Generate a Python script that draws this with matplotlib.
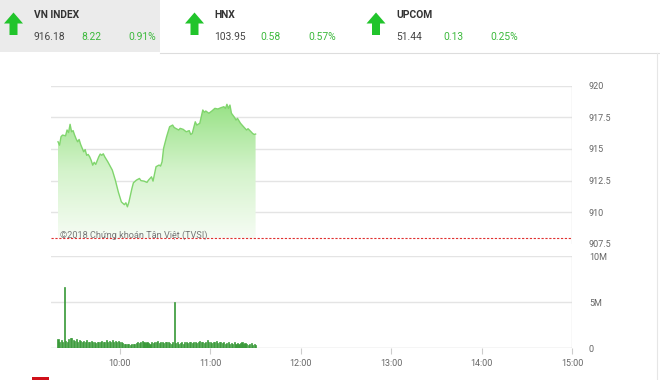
import numpy as np
import matplotlib
matplotlib.use("Agg")
import matplotlib.pyplot as plt
from matplotlib.patches import Rectangle, Polygon
from matplotlib.colors import LinearSegmentedColormap

plt.rcParams['font.family'] = ['Roboto', 'DejaVu Sans']

# ---------------- data ----------------
header_names = ["VN INDEX", "HNX", "UPCOM"]
header_values = ["916.18", "103.95", "51.44"]
header_changes = ["8.22", "0.58", "0.13"]
header_pcts = ["0.91%", "0.57%", "0.25%"]

ref_price = 907.96

# minutes after 09:00
price_minutes = [19, 20, 21, 22, 24, 25, 26, 27, 28, 29, 30, 31, 32, 33, 34, 36, 37, 38, 39,
                 40, 41, 42, 43, 44, 46, 47, 48, 49, 50, 52, 55, 57, 59, 61, 63, 64, 65, 66,
                 68, 69, 71, 73, 74, 76, 78, 79, 81, 82, 84, 86, 87, 88, 89, 91, 93, 95, 96,
                 97, 99, 100, 102, 104, 106, 107, 108, 110, 111, 113, 115, 116, 117, 119, 121,
                 123, 125, 127, 129, 130, 131, 132, 133, 134, 136, 137, 138, 140, 142, 144,
                 145, 147, 148, 149, 150]
price_values = [915.57, 915.30, 915.97, 916.10, 916.04, 916.50, 916.30, 916.95, 916.36,
                916.45, 916.10, 915.80, 915.57, 915.75, 915.36, 914.78, 914.95, 914.50,
                914.57, 914.38, 914.10, 913.72, 913.95, 913.78, 914.38, 914.60, 914.50,
                914.62, 914.38, 913.99, 913.33, 912.54, 911.60, 910.82, 910.60, 910.75,
                910.43, 910.80, 911.88, 912.33, 912.54, 912.67, 912.50, 912.46, 912.36,
                912.54, 912.80, 912.46, 913.60, 913.73, 913.65, 913.99, 915.05, 915.97,
                916.76, 916.89, 916.70, 916.63, 916.50, 916.63, 916.55, 916.36, 916.45,
                916.15, 916.23, 917.15, 916.89, 917.03, 918.08, 917.90, 918.00, 917.82,
                918.00, 918.21, 918.16, 918.26, 918.34, 918.20, 918.53, 918.21, 918.47,
                917.82, 917.50, 917.29, 917.42, 917.03, 916.76, 916.50, 916.60, 916.36,
                916.23, 916.15, 916.18]

vol_start_minute = 19
volume_m = [1.0, 0.7, 0.9, 0.6, 6.6, 0.8, 0.7, 1.0, 1.1, 1.1, 0.9, 0.8,
            1.0, 0.7, 0.9, 0.8, 0.6, 0.8, 0.7, 0.9, 0.6, 0.7, 0.8, 0.6, 0.7, 0.5, 0.7,
            0.6, 0.7, 0.8, 0.6, 0.7, 0.9, 0.7, 0.8, 0.6, 0.9, 0.7, 0.8, 0.6, 0.8, 0.7,
            0.6, 0.5, 0.4, 0.45, 0.4, 0.4, 0.35, 0.4, 0.45, 0.4, 0.5, 0.6, 0.5, 0.7, 0.8,
            0.6, 0.5, 0.7, 0.5, 0.4, 0.6, 0.5, 0.7, 0.6, 0.8, 0.5, 0.6, 0.7, 0.5, 0.6,
            0.7, 0.6, 0.5, 0.4, 0.6, 5.0, 0.5, 0.6, 0.4, 0.5, 0.6, 0.4, 0.6, 0.7, 0.5,
            0.6, 0.7, 0.5, 0.6, 0.7, 0.5, 0.6, 0.8, 0.6, 0.7, 0.5, 0.6, 0.9, 0.7, 0.6,
            0.5, 0.7, 0.6, 0.8, 0.5, 0.6, 0.7, 0.5, 0.6, 0.4, 0.5, 0.6, 0.4, 0.5, 0.4,
            0.6, 0.4, 0.5, 0.4, 0.5, 0.6, 0.4, 0.5, 0.4, 0.3, 0.4, 0.5, 0.3, 0.4, 0.3]

price_ticks = [907.5, 910, 912.5, 915, 917.5, 920]
price_ticklabels = ["907.5", "910", "912.5", "915", "917.5", "920"]
vol_ticks = [0, 5, 10]
vol_ticklabels = ["0", "5M", "10M"]
time_ticks = [60, 120, 180, 240, 300, 360]
time_ticklabels = ["10:00", "11:00", "12:00", "13:00", "14:00", "15:00"]

# ---------------- figure ----------------
W, H = 660, 380
fig = plt.figure(figsize=(W / 100, H / 100), dpi=100)
fig.patch.set_facecolor("white")

def fx(px):
    return px / W

def fy(py):
    return 1 - py / H

# header
fig.patches.append(Rectangle((0, fy(52)), fx(160), 52 / H, transform=fig.transFigure,
                             facecolor="#ebebeb", edgecolor="none", zorder=0))
fig.add_artist(plt.Line2D([fx(160), 1], [fy(52.5), fy(52.5)], transform=fig.transFigure,
                          color="#dddddd", lw=0.8))
fig.add_artist(plt.Line2D([fx(657), fx(657)], [fy(52.5), fy(380)], transform=fig.transFigure,
                          color="#e6e6e6", lw=0.8))

arrow_cx = [13.5, 194.5, 376]
name_x = [34, 214, 396]
chg_x = [81, 260, 443]
pct_x = [128, 308, 490]
green_txt = "#3cb93c"
hs = 7.4
for i in range(3):
    cx = arrow_cx[i]
    pts = [(cx, 12.5), (cx + 9.5, 23.5), (cx + 4, 23.5), (cx + 4, 35),
           (cx - 4, 35), (cx - 4, 23.5), (cx - 9.5, 23.5)]
    fig.patches.append(Polygon([(fx(a), fy(b)) for a, b in pts], closed=True,
                               transform=fig.transFigure, facecolor="#21c42b",
                               edgecolor="none"))
    fig.text(fx(name_x[i]), fy(15.5), header_names[i], fontsize=hs, fontweight="bold",
             color="#333333", va="center", ha="left")
    fig.text(fx(name_x[i]), fy(37), header_values[i], fontsize=hs,
             color="#444444", va="center", ha="left")
    fig.text(fx(chg_x[i]), fy(37), header_changes[i], fontsize=hs,
             color=green_txt, va="center", ha="left")
    fig.text(fx(pct_x[i]), fy(37), header_pcts[i], fontsize=hs,
             color=green_txt, va="center", ha="left")

# axes geometry
left_px, right_px = 51, 572.3
ax1 = fig.add_axes([fx(left_px), fy(243.9), (right_px - left_px) / W, (243.9 - 85.7) / H])
ax2 = fig.add_axes([fx(left_px), fy(348), (right_px - left_px) / W, (348 - 256) / H])

xmin, xmax = 14.35, 360
grid_c = "#e4e4e4"
tick_c = "#666666"

# ---- price panel ----
ax1.set_xlim(xmin, xmax)
ax1.set_ylim(907.5, 920)
for v in price_ticks[1:]:
    ax1.axhline(v, color=grid_c, lw=1.0, zorder=1)

px = np.array(price_minutes, dtype=float)
pv = np.array(price_values)
poly = ax1.fill_between(px, pv, ref_price, color="none", lw=0)
cmap = LinearSegmentedColormap.from_list("g", ["#f6fcf4", "#d4f3cb", "#98e286"])
grad = np.linspace(0, 1, 256).reshape(-1, 1)
im = ax1.imshow(grad, cmap=cmap, aspect="auto", origin="lower",
                extent=[px.min(), px.max(), ref_price, pv.max()], zorder=2)
path = poly.get_paths()[0]
im.set_clip_path(path, transform=ax1.transData)
ax1.set_xlim(xmin, xmax)
ax1.set_ylim(907.5, 920)
ax1.plot(px, pv, color="#80d56d", lw=1.0, zorder=3)

ax1.axhline(ref_price, color="#e03030", lw=0.8, ls=(0, (2, 1.5)), zorder=4)
ax1.axvline(xmax, color="#dcdcdc", lw=1.0, zorder=1)

ax1.yaxis.tick_right()
ax1.set_yticks(price_ticks)
ax1.set_yticklabels(price_ticklabels)
ax1.tick_params(axis="y", length=0, pad=12, labelsize=6.5, labelcolor=tick_c)
ax1.set_xticks([])
for s in ax1.spines.values():
    s.set_visible(False)

fig.text(fx(60), fy(235.5), "©2018 Chứng khoán Tân Việt (TVSI)", fontsize=6.6,
         color="#777777", va="center", ha="left", zorder=10)

# ---- volume panel ----
vt = vol_start_minute + np.arange(len(volume_m))
ax2.set_xlim(xmin, xmax)
ax2.set_ylim(0, 10)
for v in [5, 10]:
    ax2.axhline(v, color=grid_c, lw=1.0, zorder=1)
ax2.bar(vt, volume_m, width=0.7, color="#3a9a3a", edgecolor="#3a9a3a",
        linewidth=0.5, zorder=3)
ax2.axhline(0, color="#cccccc", lw=1.0, zorder=2)
ax2.axvline(xmax, color="#dcdcdc", lw=1.0, zorder=1)
ax2.yaxis.tick_right()
ax2.set_yticks(vol_ticks)
ax2.set_yticklabels(vol_ticklabels)
ax2.tick_params(axis="y", length=0, pad=12, labelsize=6.5, labelcolor=tick_c)
ax2.set_xticks(time_ticks)
ax2.set_xticklabels(time_ticklabels)
ax2.tick_params(axis="x", length=4, width=0.8, color="#cccccc", pad=4,
                labelsize=6.5, labelcolor=tick_c)
for s in ax2.spines.values():
    s.set_visible(False)

# red tab at bottom-left
fig.patches.append(Rectangle((fx(31.5), 0), fx(17), 3 / H, transform=fig.transFigure,
                             facecolor="#d0101a", edgecolor="none"))

fig.savefig("out.png", dpi=100)
